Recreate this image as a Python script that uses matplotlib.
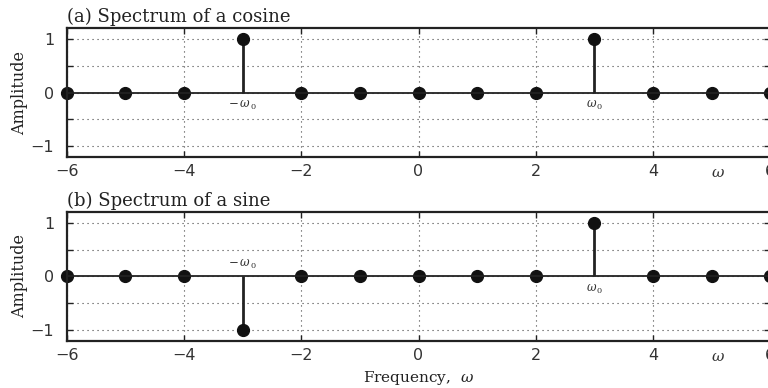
import numpy as np
import matplotlib.pyplot as plt

# discrete frequency axis and spectral line amplitudes
freqs = np.arange(-6, 7)
cos_amp = [0, 0, 0, 1, 0, 0, 0, 0, 0, 1, 0, 0, 0]
sin_amp = [0, 0, 0, -1, 0, 0, 0, 0, 0, 1, 0, 0, 0]
titles = ["(a) Spectrum of a cosine", "(b) Spectrum of a sine"]
w0 = 3

serif = "DejaVu Serif"
plt.rcParams['mathtext.fontset'] = 'dejavuserif'

fig = plt.figure(figsize=(7.68, 3.88), dpi=100)
ax1 = fig.add_axes([0.087, 0.595, 0.916, 0.333])
ax2 = fig.add_axes([0.087, 0.121, 0.916, 0.333])


def draw_panel(ax, amp, title, neg_above):
    ml, sl, bl = ax.stem(freqs, amp, linefmt='k-', markerfmt='ko', basefmt='k-')
    plt.setp(ml, markersize=8.5, color='#111111')
    plt.setp(sl, linewidth=2.0, color='#222222')
    plt.setp(bl, linewidth=1.3, color='#222222')
    ml.set_clip_on(False)
    sl.set_clip_on(False)

    ax.set_xlim(-6, 6)
    ax.set_ylim(-1.2, 1.2)
    ax.set_xticks([-6, -4, -2, 0, 2, 4, 6])
    ax.set_yticks([-1, 0, 1])
    ax.set_yticks([-0.5, 0.5], minor=True)
    ax.tick_params(axis='both', which='both', direction='in', top=True, right=True,
                   length=4, width=1.0, labelsize=11.5, colors='#222222',
                   labelcolor='#333333')
    ax.tick_params(axis='x', pad=5)
    ax.tick_params(axis='y', pad=9)
    for lab in ax.get_xticklabels() + ax.get_yticklabels():
        lab.set_family('DejaVu Sans')
    ax.grid(True, which='major', linestyle=(0, (1, 3.5)), color='#444444', linewidth=0.8)
    ax.grid(True, which='minor', axis='y', linestyle=(0, (1, 3.5)), color='#444444', linewidth=0.8)
    ax.set_axisbelow(True)
    for sp in ax.spines.values():
        sp.set_linewidth(1.6)
        sp.set_color('#222222')

    ax.set_title(title, loc='left', fontsize=13, family=serif, pad=4, color='#222222')
    ax.set_ylabel("Amplitude", fontsize=11.5, family=serif, labelpad=2, color='#222222')

    # labels for the two spectral lines
    if neg_above:
        ax.text(-w0, 0.1, r"$-\,\omega_{\,0}$", ha='center', va='bottom', fontsize=8.5, color='#333333')
    else:
        ax.text(-w0, -0.12, r"$-\,\omega_{\,0}$", ha='center', va='top', fontsize=8.5, color='#333333')
    ax.text(w0, -0.12, r"$\omega_{\,0}$", ha='center', va='top', fontsize=8.5, color='#333333')
    ax.text(5.1, -0.06, r"$\omega$", transform=ax.get_xaxis_transform(),
            ha='center', va='top', fontsize=11, color='#333333')


draw_panel(ax1, cos_amp, titles[0], neg_above=False)
draw_panel(ax2, sin_amp, titles[1], neg_above=True)

ax2.set_xlabel(r"Frequency,  $\omega$", fontsize=11, family=serif, labelpad=4, color='#222222')

fig.savefig("out.png", dpi=100)
